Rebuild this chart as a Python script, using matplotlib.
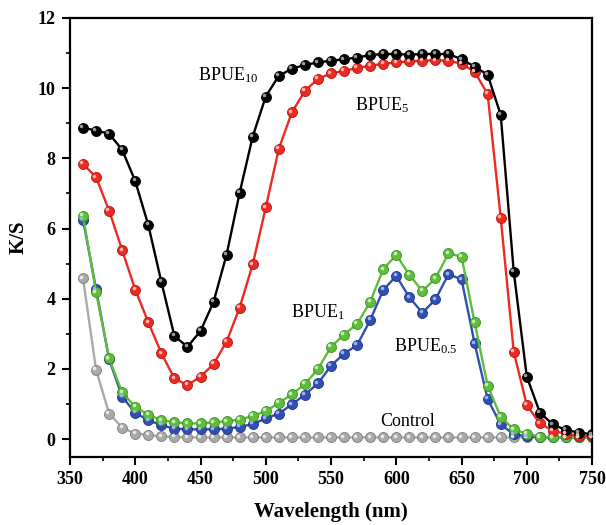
import numpy as np
import matplotlib
matplotlib.use("Agg")
import matplotlib.pyplot as plt
from matplotlib.ticker import MultipleLocator
import matplotlib.transforms as mtransforms

plt.rcParams['font.family'] = ['Liberation Serif', 'DejaVu Serif']
plt.rcParams['mathtext.fontset'] = 'custom'
plt.rcParams['mathtext.rm'] = 'Liberation Serif'
plt.rcParams['mathtext.it'] = 'Liberation Serif:italic'
plt.rcParams['mathtext.bf'] = 'Liberation Serif:bold'

wavelength = list(range(360, 751, 10))

bpue10 = [8.87, 8.79, 8.70, 8.24, 7.35, 6.10, 4.48, 2.94, 2.63, 3.08,
          3.91, 5.26, 7.02, 8.62, 9.76, 10.35, 10.55, 10.66, 10.73, 10.78,
          10.82, 10.87, 10.94, 10.97, 10.97, 10.95, 10.97, 10.97, 10.97, 10.82,
          10.61, 10.38, 9.24, 4.77, 1.78, 0.76, 0.42, 0.26, 0.19, 0.14]
bpue5 = [7.84, 7.46, 6.51, 5.38, 4.26, 3.33, 2.45, 1.73, 1.54, 1.78,
         2.14, 2.78, 3.75, 4.98, 6.60, 8.27, 9.31, 9.92, 10.26, 10.42,
         10.49, 10.57, 10.64, 10.69, 10.73, 10.76, 10.78, 10.79, 10.78, 10.69,
         10.47, 9.83, 6.31, 2.49, 0.97, 0.45, 0.24, 0.15, 0.10, 0.08]
bpue1 = [6.36, 4.18, 2.30, 1.33, 0.92, 0.70, 0.54, 0.48, 0.45, 0.45,
         0.48, 0.51, 0.56, 0.66, 0.80, 1.03, 1.28, 1.57, 2.00, 2.63,
         2.98, 3.28, 3.91, 4.84, 5.25, 4.68, 4.22, 4.58, 5.29, 5.20,
         3.33, 1.52, 0.64, 0.28, 0.16, 0.07, 0.05, 0.05, 0.05, 0.05]
bpue05 = [6.25, 4.27, 2.27, 1.21, 0.75, 0.54, 0.40, 0.30, 0.28, 0.28,
          0.28, 0.30, 0.35, 0.43, 0.59, 0.73, 0.99, 1.27, 1.59, 2.09,
          2.44, 2.68, 3.39, 4.25, 4.65, 4.04, 3.60, 3.98, 4.70, 4.55,
          2.73, 1.14, 0.42, 0.14, 0.08, 0.06, 0.05, 0.05, 0.05, 0.05]
control = [4.58, 1.97, 0.73, 0.33, 0.16, 0.12, 0.08, 0.06, 0.05, 0.05,
           0.05, 0.05, 0.05, 0.05, 0.05, 0.05, 0.05, 0.05, 0.05, 0.05,
           0.05, 0.05, 0.05, 0.05, 0.05, 0.05, 0.05, 0.05, 0.05, 0.05,
           0.05, 0.05, 0.05, 0.05, 0.05, 0.05, 0.05, 0.05, 0.05, 0.05]

series = [
    (control, '#a9a9a9', '#7d7d7d', '#e8e8e8'),
    (bpue05, '#2f4fb3', '#1e3588', '#9fb1ee'),
    (bpue1, '#5ebd3c', '#3c8f22', '#c5f0b2'),
    (bpue5, '#ec2a22', '#b3160f', '#ffb3ae'),
    (bpue10, '#000000', '#000000', '#9a9a9a'),
]

labels = [
    (r'BPUE$_{\mathrm{10}}$', 448, 10.38),
    (r'BPUE$_{\mathrm{5}}$', 568, 9.52),
    (r'BPUE$_{\mathrm{1}}$', 519, 3.63),
    (r'BPUE$_{\mathrm{0.5}}$', 598, 2.65),
    ('Control', 588, 0.49),
]

fig = plt.figure(figsize=(6.06, 5.25), dpi=100)
ax = fig.add_axes([0.1155, 0.1300, 0.8615, 0.8360])

hl = mtransforms.offset_copy(ax.transData, fig=fig, x=-1.2, y=1.2, units='points')
for vals, col, edge, light in series:
    ax.plot(wavelength, vals, '-', color=col, lw=1.7, marker='o', ms=7.2,
            mfc=col, mec=edge, mew=0.6, zorder=2)
    ax.plot(wavelength, vals, ls='none', marker='o', ms=2.6, mfc=light,
            mec='none', transform=hl, zorder=3)

for txt, x, y in labels:
    ax.text(x, y, txt, fontsize=13, va='center', ha='left')

ax.set_xlim(350, 750)
ax.set_ylim(-0.5, 12)
ax.xaxis.set_major_locator(MultipleLocator(50))
ax.xaxis.set_minor_locator(MultipleLocator(25))
ax.yaxis.set_major_locator(MultipleLocator(2))
ax.yaxis.set_minor_locator(MultipleLocator(1))
ax.tick_params(which='major', direction='out', length=6, width=1.5,
               labelsize=13, pad=4.5)
ax.tick_params(which='minor', direction='out', length=3, width=1.2)
for lab in ax.get_xticklabels() + ax.get_yticklabels():
    lab.set_fontweight('bold')
for sp in ax.spines.values():
    sp.set_linewidth(1.6)

ax.set_xlabel('Wavelength (nm)', fontsize=15, fontweight='bold', labelpad=10)
ax.set_ylabel('K/S', fontsize=15, fontweight='bold', labelpad=6)

fig.savefig('out.png', dpi=100)
